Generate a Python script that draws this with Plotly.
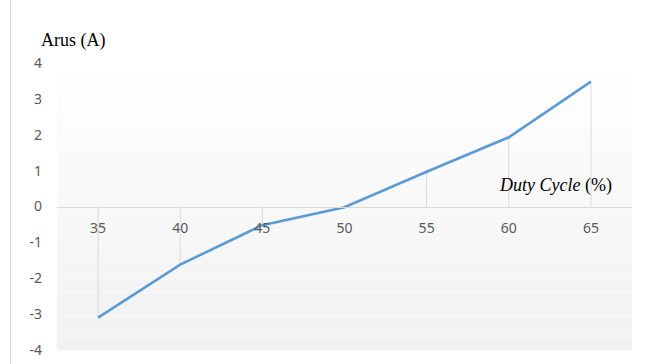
import plotly.graph_objects as go

# Duty cycle (%) vs current (A)
duty_cycle = [35, 40, 45, 50, 55, 60, 65]
arus = [-3.1, -1.62, -0.52, -0.02, 0.97, 1.93, 3.48]
y_ticks = [-4, -3, -2, -1, 0, 1, 2, 3, 4]

W, H = 652, 364
ML, MR, MT, MB = 57, 20, 63, 14
plot_w = W - ML - MR
plot_h = H - MT - MB

fig = go.Figure()

# vertical drop lines from each point to the zero line
drop_x, drop_y = [], []
for xv, yv in zip(duty_cycle, arus):
    drop_x += [xv, xv, None]
    drop_y += [0, yv, None]
fig.add_trace(go.Scatter(x=drop_x, y=drop_y, mode="lines",
                         line=dict(color="#d9d9d9", width=1),
                         hoverinfo="skip", showlegend=False))

fig.add_trace(go.Scatter(x=duty_cycle, y=arus, mode="lines",
                         line=dict(color="#5b9bd5", width=2.6),
                         showlegend=False))

# soft vertical gradient in the plot area (white -> light grey)
shapes = []
n = 60
for i in range(n):
    t = (i + 0.5) / n
    c = round(255 - 14 * t)
    shapes.append(dict(type="rect", xref="paper", yref="paper",
                       x0=0, x1=1, y0=1 - (i + 1) / n, y1=1 - i / n,
                       fillcolor=f"rgb({c},{c},{c})", line=dict(width=0),
                       layer="below"))
# chart frame edge on the left
shapes.append(dict(type="line", xref="paper", yref="paper",
                   x0=(10.5 - ML) / plot_w, x1=(10.5 - ML) / plot_w,
                   y0=-MB / plot_h, y1=1 + MT / plot_h,
                   line=dict(color="#d9d9d9", width=1)))

tick_font = dict(family="Noto Sans, Open Sans, sans-serif", size=14, color="#595959")
title_font = dict(family="Liberation Serif, Times New Roman, serif", size=18, color="#000000")

fig.update_layout(
    width=W, height=H,
    margin=dict(l=ML, r=MR, t=MT, b=MB, autoexpand=False),
    paper_bgcolor="white", plot_bgcolor="white",
    shapes=shapes,
    xaxis=dict(range=[32.5, 67.5], tickvals=duty_cycle,
               ticktext=[str(v) for v in duty_cycle],
               showgrid=False, zeroline=False,
               showline=True, linecolor="#d9d9d9", linewidth=1,
               anchor="free", position=0.5, side="bottom",
               ticks="", tickfont=tick_font, ticklabelstandoff=9,
               automargin=False),
    yaxis=dict(range=[-4, 4], tickvals=y_ticks,
               ticktext=[str(v) for v in y_ticks],
               showgrid=False, zeroline=False, showline=False,
               ticks="", tickfont=tick_font, ticklabelstandoff=14,
               automargin=False),
    annotations=[
        dict(text="Arus (A)", xref="paper", yref="paper",
             x=(39 - ML) / plot_w, y=1 + 22 / plot_h,
             xanchor="left", yanchor="middle", showarrow=False,
             font=title_font),
        dict(text="<i>Duty Cycle</i> (%)", xref="paper", yref="y",
             x=(614 - ML) / plot_w, y=0.58,
             xanchor="right", yanchor="middle", showarrow=False,
             font=title_font),
    ],
)

fig.write_html("out.html")
